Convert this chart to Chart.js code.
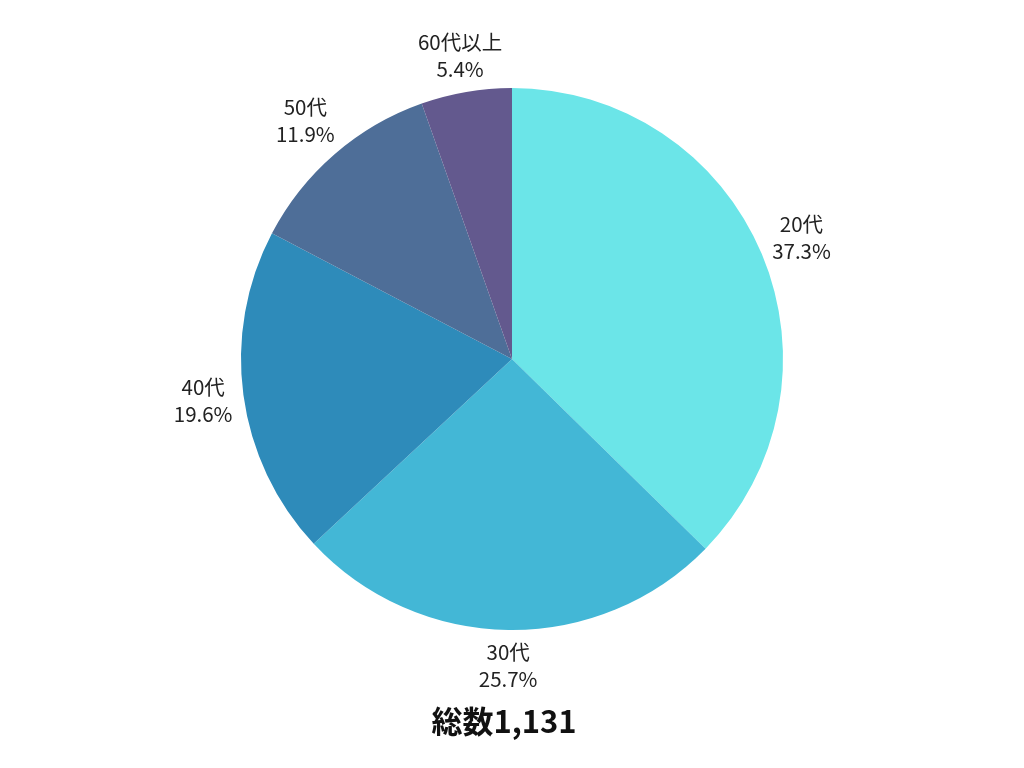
<!DOCTYPE html>
<html lang="ja">
<head>
<meta charset="utf-8">
<script src="https://cdn.jsdelivr.net/npm/chart.js@4/dist/chart.umd.min.js"></script>
<style>
  html, body { margin: 0; padding: 0; background: #ffffff; }
  #wrap { width: 1024px; height: 768px; }
</style>
</head>
<body>
<div id="wrap"><canvas id="chart-pie" width="1024" height="768"></canvas></div>
<script>
// 年代別の構成比 (%)
const categorias = ['20代', '30代', '40代', '50代', '60代以上'];
const porcentajes = [37.3, 25.7, 19.6, 11.9, 5.4];
const colores = ['#6be5e8', '#43b7d6', '#2e8bba', '#4e6e98', '#63598e'];
const tituloTotal = '総数1,131';

const FUENTE = '"Noto Sans CJK JP", "Noto Sans", sans-serif';

// Etiquetas fuera de cada sector (nombre + porcentaje) y título inferior
const etiquetasExternas = {
  id: 'etiquetasExternas',
  afterDatasetsDraw(chart) {
    const ctx = chart.ctx;
    const meta = chart.getDatasetMeta(0);
    const tamano = 20.5;
    const alto = 27;
    ctx.save();
    ctx.font = tamano + 'px ' + FUENTE;
    ctx.fillStyle = '#222222';
    ctx.textAlign = 'center';
    ctx.textBaseline = 'middle';
    meta.data.forEach((arc, i) => {
      const lineas = [categorias[i], porcentajes[i].toFixed(1) + '%'];
      const ancho = Math.max(...lineas.map(t => ctx.measureText(t).width));
      const mid = (arc.startAngle + arc.endAngle) / 2;
      const cos = Math.cos(mid), sin = Math.sin(mid);
      const hw = ancho / 2 + 2, hh = alto;
      const ext = Math.min(
        Math.abs(cos) > 1e-6 ? hw / Math.abs(cos) : Infinity,
        Math.abs(sin) > 1e-6 ? hh / Math.abs(sin) : Infinity
      );
      const d = arc.outerRadius + 9 + ext;
      const cx = arc.x + cos * d;
      const cy = arc.y + sin * d;
      ctx.fillText(lineas[0], cx, cy - alto / 2);
      ctx.fillText(lineas[1], cx, cy + alto / 2);
    });

    // título "総数" debajo del gráfico (algo desplazado a la izquierda)
    ctx.font = 'bold 31px ' + FUENTE;
    ctx.fillStyle = '#111111';
    ctx.fillText(tituloTotal, chart.width / 2 - 8, 721);
    ctx.restore();
  }
};

const ctx = document.getElementById('chart-pie').getContext('2d');
new Chart(ctx, {
  type: 'pie',
  data: {
    labels: categorias,
    datasets: [{
      data: porcentajes,
      backgroundColor: colores,
      borderColor: '#ffffff',
      borderWidth: 0
    }]
  },
  options: {
    responsive: false,
    animation: false,
    layout: { padding: { top: 88, bottom: 138, left: 0, right: 0 } },
    plugins: {
      legend: { display: false },
      tooltip: { enabled: false },
      title: { display: false }
    }
  },
  plugins: [etiquetasExternas]
});
</script>
</body>
</html>
